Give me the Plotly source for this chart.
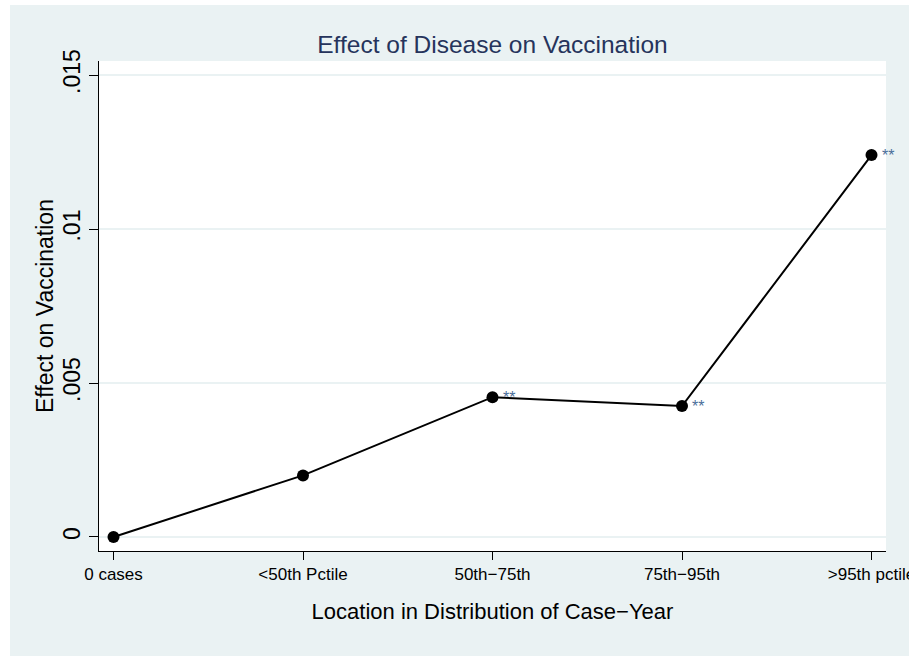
import plotly.graph_objects as go

# Estimated effect of local disease incidence on vaccination, by case-year bin
categories = ["0 cases", "<50th Pctile", "50th\u221275th", "75th\u221295th", ">95th pctile"]
effects = [0.0, 0.0020, 0.00454, 0.00425, 0.01240]
stars = ["", "", "**", "**", "**"]
y_ticks = [0, 0.005, 0.01, 0.015]
y_tick_labels = ["0", ".005", ".01", ".015"]

BG = "#EAF2F3"
FONT = "Liberation Sans, Arial, sans-serif"
x_pos = list(range(len(categories)))

fig = go.Figure()
fig.add_trace(go.Scatter(
    x=x_pos, y=effects, mode="lines+markers",
    line=dict(color="black", width=2),
    marker=dict(color="black", size=12),
    hoverinfo="skip", showlegend=False,
))

# significance stars beside the estimates
for xi, yi, s in zip(x_pos, effects, stars):
    if s:
        fig.add_annotation(
            x=xi, y=yi, text=s, showarrow=False,
            xanchor="left", yanchor="middle", xshift=8, yshift=0,
            font=dict(family=FONT, size=16, color="#4A6E9A"),
        )

# vertical axis title
fig.add_annotation(
    x=(45 - 99) / 787, y=0.5, xref="paper", yref="paper",
    text="Effect on Vaccination", textangle=-90, showarrow=False,
    xanchor="center", yanchor="middle",
    font=dict(family=FONT, size=23, color="black"),
)

fig.update_layout(
    width=909, height=656,
    margin=dict(l=99, r=23, t=61, b=105),
    paper_bgcolor="white", plot_bgcolor="white",
    font=dict(family=FONT, color="black"),
    title=dict(
        text="Effect of Disease on Vaccination",
        x=0.5, xref="paper", xanchor="center",
        y=1, yref="paper", yanchor="bottom", pad=dict(b=8),
        font=dict(family=FONT, size=24.5, color="#26345C"),
    ),
    shapes=[
        # outer graph region
        dict(type="rect", xref="paper", yref="paper", layer="below",
             x0=(10 - 99) / 787, x1=(909 - 99) / 787 + 0.01,
             y0=(551 - 660) / 490, y1=(551 - 5) / 490,
             fillcolor=BG, line=dict(width=0)),
        # plot region
        dict(type="rect", xref="paper", yref="paper", layer="below",
             x0=0, x1=1, y0=0, y1=1,
             fillcolor="white", line=dict(width=0)),
    ],
)

fig.update_xaxes(
    range=[-0.0765, 4.0765], automargin=False,
    tickmode="array", tickvals=x_pos, ticktext=categories,
    tickfont=dict(family=FONT, size=17, color="black"),
    ticklabeloverflow="allow",
    ticks="outside", ticklen=8, tickcolor="black", tickwidth=1,
    showline=True, linecolor="black", linewidth=1,
    showgrid=False, zeroline=False,
    title=dict(text="Location in Distribution of Case\u2212Year",
               font=dict(family=FONT, size=22, color="black"), standoff=20),
)
fig.update_yaxes(
    range=[-0.000455, 0.015455], automargin=False,
    tickmode="array", tickvals=y_ticks, ticktext=y_tick_labels,
    tickangle=-90,
    tickfont=dict(family=FONT, size=23, color="black"),
    ticks="outside", ticklen=9, tickcolor="black", tickwidth=1,
    showline=True, linecolor="black", linewidth=1,
    showgrid=True, gridcolor=BG, gridwidth=1.5, zeroline=False,
)

fig.write_html("out.html")
